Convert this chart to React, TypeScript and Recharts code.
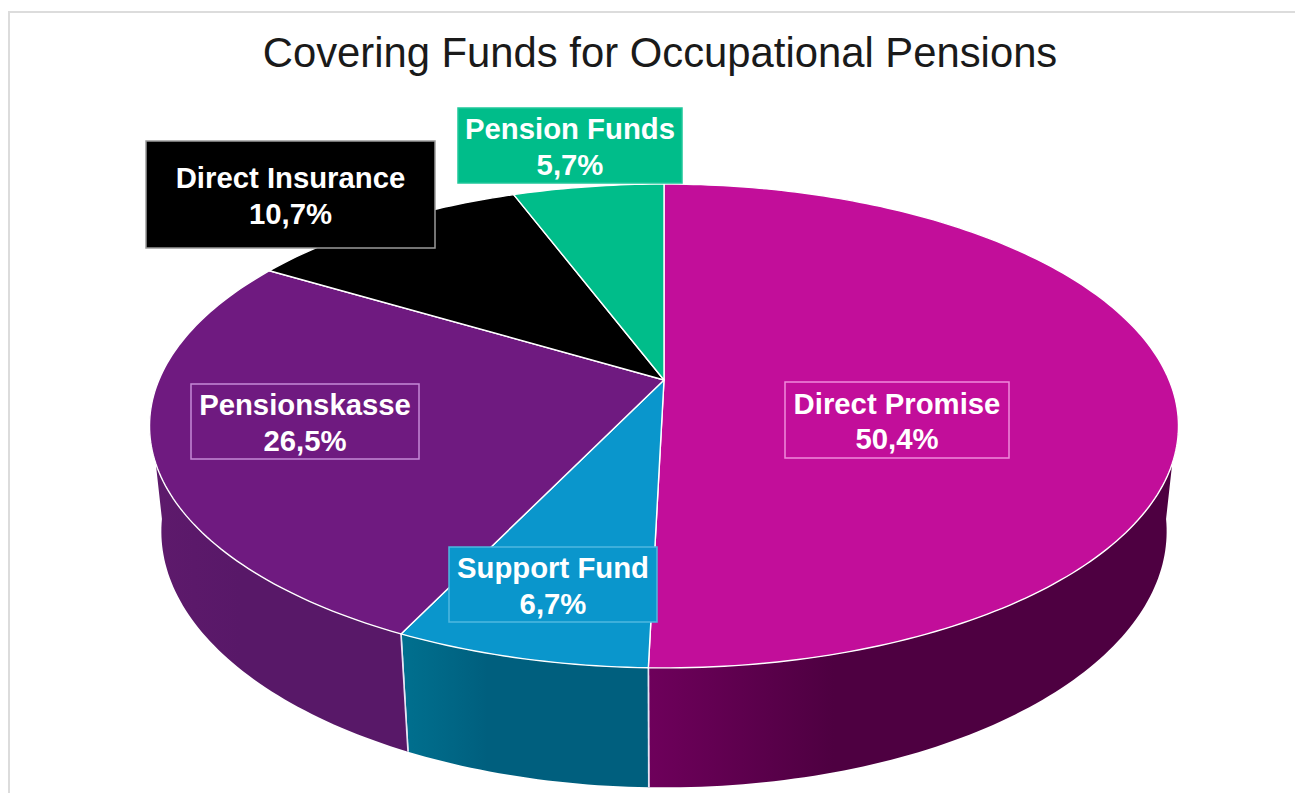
import { PieChart, Pie } from "recharts";

const FUNDS = ["Direct Promise", "Support Fund", "Pensionskasse", "Direct Insurance", "Pension Funds"];
const SHARES = [50.4, 6.7, 26.5, 10.7, 5.7];

const TOP_COLORS = ["#C20E9A", "#0A96CC", "#6F1A80", "#000000", "#00BD8A"];
const SIDE_COLORS = [
  ["#6E005B", "#4E0041"],
  ["#00708F", "#005F7E"],
  ["#5E1A6C", "#581868"],
  ["#000000", "#000000"],
  ["#00785A", "#00604A"],
];
const BOX_BORDERS = ["#F08ADB", "#4FB8E0", "#C58AD6", "#9A9A9A", "#1FC79A"];
// left, top, width, height of each label box
const LABEL_BOXES = [
  [785, 382, 224, 76],
  [449, 547, 208, 75],
  [191, 384, 228, 75],
  [146, 141, 289, 107],
  [458, 108, 224, 75],
];

const WIDTH = 1295;
const HEIGHT = 793;
const FONT = '"Liberation Sans", Arial, sans-serif';

// perspective camera for the tilted disc
const STRETCH_X = 2.166;
const PERSPECTIVE = 0.19;
const DEPTH_W = 0.0227;
const DEPTH_Y = 106;

const data = FUNDS.map((name, i) => ({ name, value: SHARES[i], index: i }));

type Pt = [number, number];

function project(cx: number, cy: number, r: number, deg: number, z: number): Pt {
  const rad = (deg * Math.PI) / 180;
  const u = Math.cos(rad);
  const v = Math.sin(rad);
  const w = 1 + PERSPECTIVE * v + DEPTH_W * z;
  return [cx + (r * STRETCH_X * u) / w, cy - (r * v - DEPTH_Y * z) / w];
}

function arcPoints(cx: number, cy: number, r: number, from: number, to: number, z: number): Pt[] {
  const steps = Math.max(2, Math.ceil(Math.abs(to - from)));
  const pts: Pt[] = [];
  for (let i = 0; i <= steps; i++) {
    pts.push(project(cx, cy, r, from + ((to - from) * i) / steps, z));
  }
  return pts;
}

const toPath = (pts: Pt[]) =>
  pts.map((p, i) => `${i ? "L" : "M"}${p[0].toFixed(2)} ${p[1].toFixed(2)}`).join(" ") + " Z";

function TopSlice(props: any) {
  const { cx, cy, outerRadius, startAngle, endAngle } = props;
  const i = props.payload?.index ?? props.index;
  const pts: Pt[] = [[cx, cy], ...arcPoints(cx, cy, outerRadius, startAngle, endAngle, 0)];
  return <path d={toPath(pts)} fill={TOP_COLORS[i]} stroke="#FFFFFF" strokeWidth={1.4} strokeLinejoin="round" />;
}

// outer wall, only drawn for the part of the rim that faces the viewer
const SIDE_FROM = -8;
const SIDE_TO = -172;

function SideSlice(props: any) {
  const { cx, cy, outerRadius, startAngle, endAngle } = props;
  const i = props.payload?.index ?? props.index;
  const from = Math.min(startAngle, SIDE_FROM);
  const to = Math.max(endAngle, SIDE_TO);
  if (from <= to) return <g />;
  const upper = arcPoints(cx, cy, outerRadius, from, to, 0);
  const lower = arcPoints(cx, cy, outerRadius, to, from, 1);
  const edges = [startAngle, endAngle].filter((a) => a < SIDE_FROM && a > SIDE_TO);
  const id = `side-${i}`;
  return (
    <g>
      <defs>
        <linearGradient id={id} x1="0" y1="0" x2="1" y2="0">
          <stop offset="0%" stopColor={SIDE_COLORS[i][0]} />
          <stop offset="35%" stopColor={SIDE_COLORS[i][1]} />
          <stop offset="100%" stopColor={SIDE_COLORS[i][1]} />
        </linearGradient>
      </defs>
      <path d={toPath([...upper, ...lower])} fill={`url(#${id})`} />
      {edges.map((a) => {
        const p = project(cx, cy, outerRadius, a, 0);
        const q = project(cx, cy, outerRadius, a, 1);
        return <line key={a} x1={p[0]} y1={p[1]} x2={q[0]} y2={q[1]} stroke="#E8E4F4" strokeWidth={1.6} />;
      })}
    </g>
  );
}

function SliceLabel(props: any) {
  const i = props.payload?.index ?? props.index;
  const [x, y, w, h] = LABEL_BOXES[i];
  const mid = x + w / 2;
  const first = y + h / 2 - 6.5;
  return (
    <g>
      <rect x={x} y={y} width={w} height={h} fill={TOP_COLORS[i]} stroke={BOX_BORDERS[i]} strokeWidth={1.5} />
      <text x={mid} y={first} textAnchor="middle" fill="#FFFFFF" fontFamily={FONT} fontWeight={700} fontSize={29.3}>
        {FUNDS[i]}
      </text>
      <text x={mid} y={first + 35.5} textAnchor="middle" fill="#FFFFFF" fontFamily={FONT} fontWeight={700} fontSize={29.3}>
        {SHARES[i].toFixed(1).replace(".", ",")}%
      </text>
    </g>
  );
}

export default function App() {
  return (
    <div style={{ position: "fixed", left: 0, top: 0, width: WIDTH, height: HEIGHT, background: "#FFFFFF", overflow: "hidden" }}>
      <div style={{ position: "absolute", left: 8, top: 11, right: 0, bottom: 0, borderLeft: "2px solid #DCDCDC", borderTop: "2px solid #DCDCDC" }} />
      <PieChart width={WIDTH} height={HEIGHT} margin={{ top: 0, right: 0, bottom: 0, left: 0 }}>
        <Pie
          data={data}
          dataKey="value"
          nameKey="name"
          cx={664}
          cy={380}
          outerRadius={233.2}
          startAngle={90}
          endAngle={-270}
          stroke="none"
          shape={SideSlice}
          label={false}
          labelLine={false}
          isAnimationActive={false}
        />
        <Pie
          data={data}
          dataKey="value"
          nameKey="name"
          cx={664}
          cy={380}
          outerRadius={233.2}
          startAngle={90}
          endAngle={-270}
          stroke="none"
          shape={TopSlice}
          label={SliceLabel}
          labelLine={false}
          isAnimationActive={false}
        />
        <text x={660} y={67} textAnchor="middle" fill="#1A1A1A" fontFamily={FONT} fontSize={41.8}>
          Covering Funds for Occupational Pensions
        </text>
      </PieChart>
    </div>
  );
}
